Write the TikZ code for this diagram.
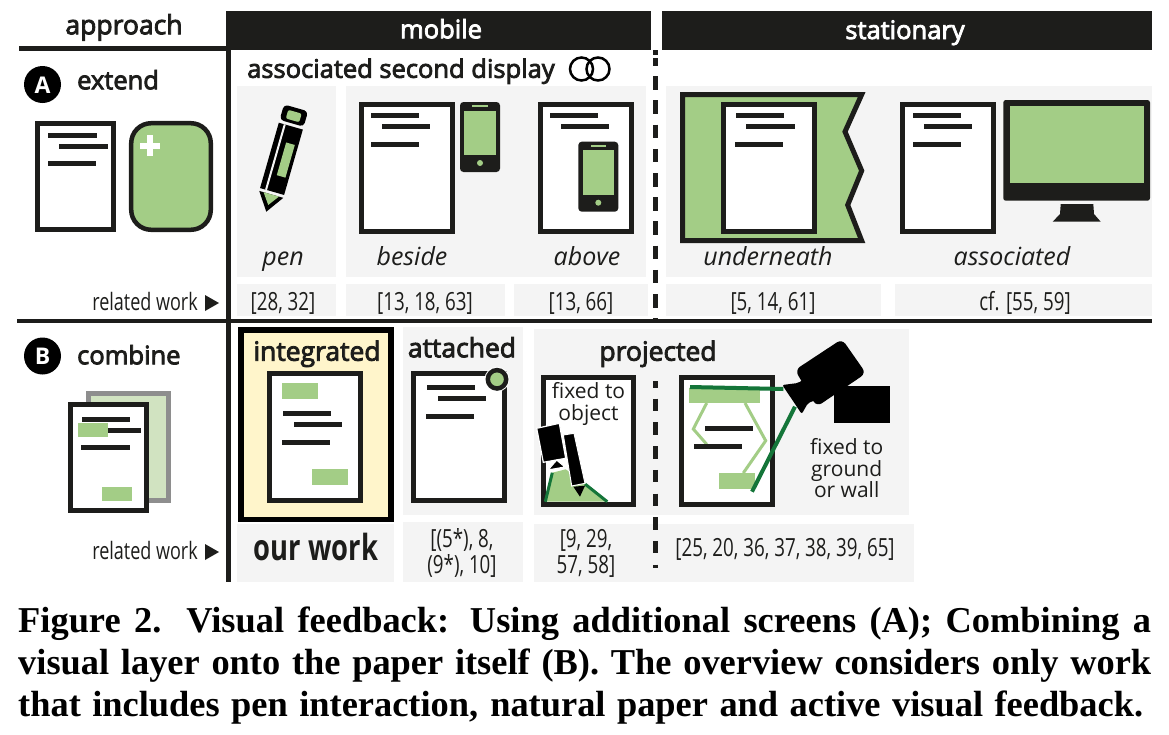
\documentclass[tikz,border=0pt]{standalone}
\usepackage{fontspec}
\setmainfont{Open Sans}
\newfontfamily\semifont[FakeBold=3.2]{Open Sans}
\newfontfamily\narfont[FakeStretch=0.75]{Open Sans}
\newfontfamily\herofont[FakeStretch=0.76]{Open Sans}
\newfontfamily\capfont{Liberation Serif}
\definecolor{ink}{HTML}{1D1D1B}
\definecolor{leaf}{HTML}{A3CD86}
\definecolor{panelgray}{HTML}{F4F4F4}
\definecolor{cream}{HTML}{FFF5CB}
\definecolor{paleleaf}{HTML}{D1E3C1}
\definecolor{sheetgray}{HTML}{8E8E8E}
\definecolor{beam}{HTML}{147539}
\tikzset{
  panel/.style={fill=panelgray,draw=none},
  docframe/.style={draw=ink,line width=5pt,fill=white},
  docline/.style={fill=ink,draw=none},
  leaffill/.style={fill=leaf,draw=none},
  inkfill/.style={fill=ink,draw=none},
  rule/.style={fill=ink,draw=none},
  dashrule/.style={ink,line width=5.2pt},
  headtext/.style={inner sep=0pt,anchor=base,font=\fontsize{25.5}{25.5}\semifont},
  headwhite/.style={headtext,text=white},
  labtext/.style={inner sep=0pt,anchor=base,text=ink,font=\fontsize{25.5}{25.5}\semifont},
  bigtext/.style={inner sep=0pt,anchor=base,text=ink,font=\fontsize{26.5}{26.5}\semifont},
  itext/.style={inner sep=0pt,anchor=base,text=ink,font=\fontsize{25}{25}\selectfont\itshape},
  reftext/.style={inner sep=0pt,anchor=base,text=ink,font=\fontsize{25}{25}\narfont},
  reltext/.style={inner sep=0pt,anchor=base east,text=ink,font=\fontsize{24}{24}\narfont},
  plaintext/.style={inner sep=0pt,anchor=base,text=ink,font=\fontsize{21}{21}\selectfont},
  captext/.style={inner sep=0pt,anchor=base west,font=\fontsize{36.4}{36.4}\capfont\bfseries},
}
\newcommand{\docbox}[4]{% x1 y1 x2 y2 outer
  \draw[docframe] (#1+2.5,#2+2.5) rectangle (#3-2.5,#4-2.5);}
\newcommand{\docbar}[3]{% x1 x2 yc
  \fill[docline] (#1,#3-2.5) rectangle (#2,#3+2.5);}
\newcommand{\phone}[2]{%
  \begin{scope}[shift={(#1,#2)}]
    \fill[inkfill,rounded corners=3.5pt] (0,0) rectangle (40,70);
    \fill[leaffill] (4.3,8.7) rectangle (36,53.3);
    \fill[leaffill] (12.3,3.3) rectangle (27.7,5.3);
    \fill[leaffill] (20,61) circle (3);
  \end{scope}}
\begin{document}
\begin{tikzpicture}[x=1pt,y=-1pt]
\useasboundingbox (0,0) rectangle (1169,734);
% panels
\fill[panel] (237,86) rectangle (336,277);
\fill[panel] (346,86) rectangle (646,277);
\fill[panel] (666,86) rectangle (1152,277);
\fill[panel] (237,284) rectangle (336,316);
\fill[panel] (346,284) rectangle (505,316);
\fill[panel] (514,284) rectangle (648,316);
\fill[panel] (666,284) rectangle (881,316);
\fill[panel] (895,284) rectangle (1152,316);
\fill[panel] (237,524) rectangle (394,582);
\fill[panel] (403,327) rectangle (523,515);
\fill[panel] (403,522) rectangle (523,582);
\fill[panel] (534,329) rectangle (909,515);
\fill[panel] (534,524) rectangle (914,582);
% rules and headers
\fill[rule] (226,11) rectangle (651,50);
\fill[rule] (662,11) rectangle (1152,50);
\fill[rule] (19,46) rectangle (226,50.5);
\fill[rule] (226,50) rectangle (231,582);
\fill[rule] (17,319) rectangle (1152,323);
\draw[dashrule] (655.5,50) -- (655.5,55);
\draw[dashrule,dash pattern=on 13.5pt off 10.7pt,dash phase=6pt] (655.5,58) -- (655.5,321);
\draw[dashrule,dash pattern=on 12.5pt off 11.2pt,dash phase=6pt] (655.5,381) -- (655.5,568);
\node[bigtext] (happroach) at (124,34.3) {approach};
\node[headwhite] (hmobile) at (441,38.3) {mobile};
\node[headwhite] (hstationary) at (905,39) {stationary};
% A row
\fill[black] (42.5,84.5) circle (18.5);
\node[inner sep=0pt,text=white,font=\fontsize{23}{23}\selectfont\bfseries] (letterA) at (42.5,85) {A};
\node[labtext,anchor=base west] (extend) at (77,89.3) {extend};
\node[labtext,anchor=base west] (assoc) at (247,77.8) {associated second display};
\draw[black,line width=2.5pt] (581.5,69) ellipse (11.5 and 11.5);
\draw[black,line width=2.5pt] (598,69) ellipse (11.5 and 11.5);
% extend icon
\docbox{35}{121}{116}{232}
\docbar{48}{97}{135.3}\docbar{59}{108}{146.3}\docbar{48}{96}{163.3}
\draw[draw=ink,line width=4.5pt,fill=leaf,rounded corners=20pt] (131.2,123.2) rectangle (210.8,229.8);
\fill[white] (140,142.5) rectangle (160,148.5);
\fill[white] (147,135) rectangle (153,156);
% pen
\begin{scope}[shift={(266.3,211.7)},rotate=-16]
  \fill[black] (0,0) -- (-12.5,-18) -- (12.5,-18) -- cycle;
  \fill[leaf] (0,-7) -- (-8,-18) -- (8,-18) -- cycle;
  \fill[black] (-12.5,-21) rectangle (12.5,-89);
  \fill[panelgray] (-7.3,-21) rectangle (-5.3,-89);
  \fill[leaf] (0,-38) rectangle (9,-72);
  \fill[black,rounded corners=4pt] (-12.5,-92) -- (-12.5,-108) -- (12.5,-108) -- (12.5,-92) -- cycle;
  \fill[leaf,rounded corners=2pt] (-7,-95) rectangle (7,-104);
\end{scope}
\node[itext] (tpen) at (283,265) {pen};
% beside
\docbox{359}{102}{455}{234}
\docbar{371}{419}{115.3}\docbar{382}{430}{126.3}\docbar{371}{419}{144.3}
\phone{460}{102}
\node[itext] (tbeside) at (412,265) {beside};
% above
\docbox{538}{102}{634}{234}
\docbar{550}{598}{115.3}\docbar{561}{609}{126.3}
\phone{578.3}{141.7}
\node[itext] (tabove) at (587,265) {above};
% underneath
\draw[draw=ink,line width=5pt,fill=leaf,miter limit=10] (682.5,94.5) -- (861.7,94.5) -- (845,131.7) -- (861.7,170.7) -- (847.7,205) -- (861.7,240.7) -- (682.5,240.7) -- cycle;
\docbox{721}{102}{817}{234}
\docbar{736}{784}{115.3}\docbar{746}{795}{126.3}\docbar{735}{783}{144.3}
\node[itext] (tunder) at (768,265) {underneath};
% associated
\docbox{900}{102}{996}{234}
\docbar{913}{961}{115.3}\docbar{924}{972}{126.3}\docbar{913}{961}{144.3}
\fill[inkfill,rounded corners=2.5pt] (1003.3,100) rectangle (1150,200.7);
\fill[leaffill] (1010,106) rectangle (1144,183.3);
\fill[inkfill] (1060.7,204) -- (1093.3,204) -- (1094,214) -- (1100.7,221.7) -- (1052.7,221.7) -- (1060,214) -- cycle;
\node[itext] (tassoc) at (1012,265) {associated};
% refs A
\node[reltext] (relA) at (198,310.5) {related work};
\fill[ink] (205,295) -- (219,303) -- (205,311) -- cycle;
\node[reftext] (r1) at (283,310.5) {[28, 32]};
\node[reftext] (r2) at (425,310.5) {[13, 18, 63]};
\node[reftext] (r3) at (581,310.5) {[13, 66]};
\node[reftext] (r4) at (773,310.5) {[5, 14, 61]};
\node[reftext] (r5) at (1025,310.5) {cf. [55, 59]};
% B row
\fill[black] (42.5,356) circle (18.5);
\node[inner sep=0pt,text=white,font=\fontsize{23}{23}\selectfont\bfseries] (letterB) at (42.5,356.5) {B};
\node[labtext,anchor=base west] (combine) at (77,364.3) {combine};
\draw[draw=sheetgray,line width=5pt,fill=paleleaf] (88.5,393.5) rectangle (168.5,500.5);
\docbox{68}{402}{149}{513}
\docbar{82}{130}{419.3}\docbar{100}{141}{430}\docbar{81}{130}{447.3}
\fill[leaffill] (78,423) rectangle (108,437);
\fill[leaffill] (102,487) rectangle (132,501);
% integrated
\draw[draw=black,line width=5.8pt,fill=cream] (241.2,330.2) rectangle (391,519.5);
\node[bigtext] (tintegrated) at (317,360.7) {integrated};
\docbox{267}{371}{363}{503}
\fill[leaffill] (282,383) rectangle (318,399);
\docbar{283}{331}{413.3}\docbar{294}{342}{424.3}\docbar{282}{330}{442.3}
\fill[leaffill] (312,469) rectangle (348,485);
\node[inner sep=0pt,anchor=base,text=ink,font=\fontsize{36}{36}\herofont\bfseries] (ourwork) at (316,560) {our work};
\node[reltext] (relB) at (198,559.3) {related work};
\fill[ink] (205,544) -- (219,552) -- (205,560) -- cycle;
% attached
\node[bigtext] (tattached) at (462,357.3) {attached};
\docbox{411}{371}{507}{503}
\docbar{427}{475}{387.3}\docbar{438}{486}{398.3}\docbar{426}{474}{416.3}
\fill[white] (497,379.3) circle (12.5);
\draw[draw=ink,line width=4.5pt,fill=leaf] (497,379.3) circle (9.2);
\node[reftext] (r6a) at (462,547.7) {[(5*), 8,};
\node[reftext] (r6b) at (462,573.3) {(9*), 10]};
% projected
\node[bigtext] (tprojected) at (658,360.7) {projected};
\docbox{541}{375}{636}{507}
\node[plaintext] (tfixA) at (588.5,398.3) {fixed to};
\node[plaintext] (tfixB) at (588.5,420.7) {object};
\coordinate (lensA) at (548,471);
\coordinate (lensB) at (585,484);
\coordinate (hitA) at (545.3,501.7);
\coordinate (hitB) at (607.3,501.7);
\fill[leaf] (hitA) -- (552.3,472.7) -- (565.7,469.3) -- (586.7,484) -- (hitB) -- cycle;
\draw[beam,line width=3pt] (hitA) -- (552.3,472.7);
\draw[beam,line width=3pt] (lensB) -- (hitB);
\draw[draw=white,line width=1.2pt,fill=black] (536.7,428.3) -- (559.3,423.3) -- (565.7,458.3) -- (543.3,462.3) -- cycle;
\draw[draw=white,line width=1.2pt,fill=black] (548,470) -- (565,467) -- (556.7,460) -- cycle;
\draw[draw=white,line width=1pt,fill=black] (563.3,435) -- (574,433.3) -- (585,483.3) -- (571.7,486) -- cycle;
\fill[black] (573.3,486.7) -- (585,485.7) -- (580,496.7) -- cycle;
\node[reftext] (r7a) at (586,547.7) {[9, 29,};
\node[reftext] (r7b) at (586,573.3) {57, 58]};
% projected right
\docbox{679}{375}{775}{507}
\fill[leaffill] (689,388.3) rectangle (760,403);
\fill[leaffill] (719,473) rectangle (755,489);
\draw[leaf,line width=3pt] (706.7,403) -- (693.3,429) -- (706.7,444.3);
\draw[leaf,line width=3pt] (745,403) -- (765.7,440.7) -- (743.3,473);
\docbar{705}{753}{428.3}\docbar{694}{742}{446.3}
\coordinate (lensC) at (783.3,389);
\coordinate (lensD) at (795,406.7);
\coordinate (hitC) at (690,387);
\coordinate (hitD) at (752,491.7);
\draw[beam,line width=4pt] (hitC) -- (lensC);
\draw[beam,line width=4pt] (lensD) -- (hitD);
\fill[black] (834,386) rectangle (890,423);
\fill[black,rounded corners=6pt] (795,370) -- (842,339) -- (866,373.3) -- (816.7,406.7) -- cycle;
\fill[black,rounded corners=2pt] (782.3,385) -- (798,383) -- (806,378) -- (816,400) -- (808,403) -- (801.7,414) -- cycle;
\node[plaintext] (tgroundA) at (846.7,454) {fixed to};
\node[plaintext] (tgroundB) at (846.7,476.7) {ground};
\node[plaintext] (tgroundC) at (846.7,497.3) {or wall};
\node[reftext] (r8) at (785,556.7) {[25, 20, 36, 37, 38, 39, 65]};
% caption
\node[captext] (capA) at (18,632) {\makebox[1133pt][s]{Figure 2. Visual feedback: Using additional screens (A); Combining a}};
\node[captext] (capB) at (18,674) {\makebox[1133pt][s]{visual layer onto the paper itself (B). The overview considers only work}};
\node[captext] (capC) at (18,716) {\makebox[1125pt][s]{that includes pen interaction, natural paper and active visual feedback.}};
\end{tikzpicture}
\end{document}
